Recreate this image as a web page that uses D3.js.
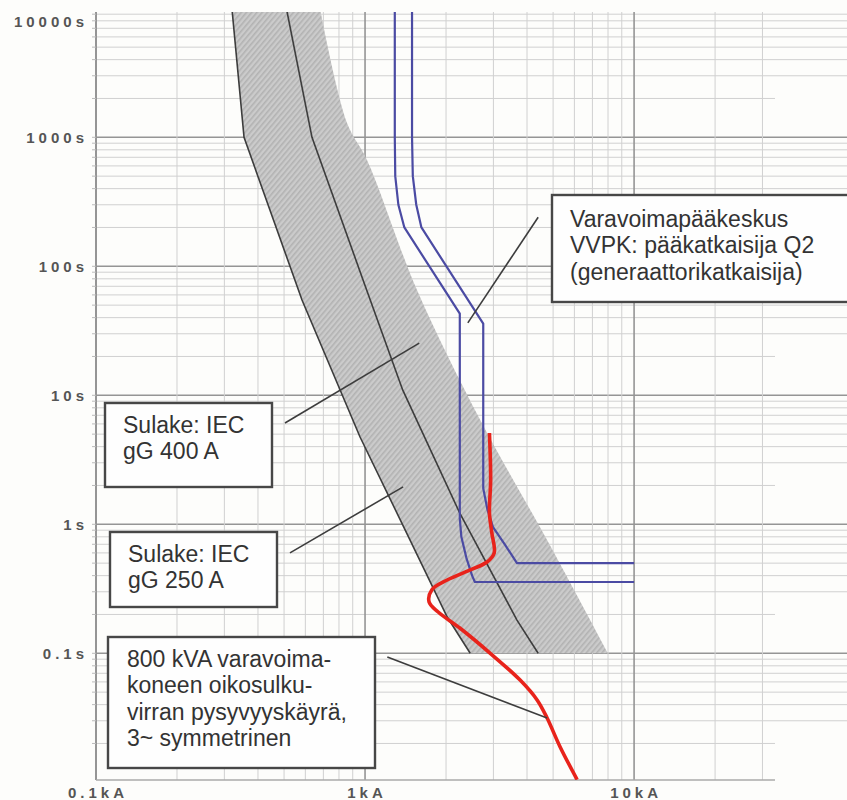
<!DOCTYPE html>
<html>
<head>
<meta charset="utf-8">
<script src="https://cdn.jsdelivr.net/npm/d3@7"></script>
<style>
  body { margin: 0; background: #fdfdfb; }
  svg { display: block; }
</style>
</head>
<body>
<div id="chart"></div>
<script>
// axis ticks
const yTicks = [0.1, 1, 10, 100, 1000, 10000];
const yTickLabels = ["0.1s", "1s", "10s", "100s", "1000s", "10000s"];
const xTicks = [0.1, 1, 10];
const xTickLabels = ["0.1kA", "1kA", "10kA"];

// fuse gG 250 A (left line of band), current kA / time s
const fuse250I = [0.32, 0.355, 0.583, 0.958, 1.47, 2.02, 2.46];
const fuse250T = [10000, 1000, 54.8, 4.75, 0.755, 0.191, 0.1];
// fuse gG 400 A (middle line)
const fuse400I = [0.51, 0.635, 0.983, 1.38, 2.25, 3.67, 4.40];
const fuse400T = [10000, 1000, 78.4, 11, 1.22, 0.181, 0.1];
// right edge of tolerance band
const bandRightI = [0.68, 0.857, 1.017, 1.56, 2.68, 4.75, 8.0];
const bandRightT = [10000, 1290, 667, 65.5, 6.43, 0.755, 0.1];

// breaker Q2, two curves
const q2LowI = [1.29, 1.29, 1.295, 1.33, 1.40, 2.25, 2.25, 2.28, 2.38, 2.50, 2.56, 10];
const q2LowT = [10000, 1000, 500, 300, 200, 43, 1.1, 0.8, 0.55, 0.40, 0.357, 0.357];
const q2HighI = [1.495, 1.495, 1.505, 1.55, 1.62, 2.75, 2.75, 2.85, 2.99, 3.32, 3.67, 10];
const q2HighT = [10000, 1000, 500, 300, 200, 36, 1.9, 1.3, 0.95, 0.69, 0.5, 0.5];

// generator short-circuit decrement curve
const genI = [2.90, 2.93, 2.90, 2.96, 3.02, 2.84, 2.46, 2.02, 1.77, 1.73, 1.87, 2.25, 2.92, 3.77, 4.36, 4.75, 5.31, 6.14];
const genT = [5.1, 2.2, 1.22, 0.857, 0.6, 0.51, 0.443, 0.37, 0.31, 0.25, 0.209, 0.157, 0.1, 0.062, 0.0435, 0.0315, 0.0188, 0.0105];

// annotation boxes (text) and their leader lines in data units
const noteTexts = [
  ["Varavoimapääkeskus", "VVPK: pääkatkaisija Q2", "(generaattorikatkaisija)"],
  ["Sulake: IEC", "gG 400 A"],
  ["Sulake: IEC", "gG 250 A"],
  ["800 kVA varavoima-", "koneen oikosulku-", "virran pysyvyyskäyrä,", "3~ symmetrinen"]
];
const leaderFrom = [[4.4, 240], [0.504, 6.1], [0.526, 0.6], [1.21, 0.0936]];
const leaderTo = [[2.41, 36.4], [1.59, 25.4], [1.385, 1.95], [4.75, 0.0315]];

const W = 847, H = 800;
const plot = {left: 96, right: 775, top: 12, bottom: 780};

const x = d3.scaleLog().domain([0.1, 33.4]).range([plot.left, plot.right]);
const y = d3.scaleLog().domain([0.01, 10000]).range([782.3, 8.3]);

const svg = d3.select("#chart").append("svg")
  .attr("width", W).attr("height", H);

svg.append("rect").attr("width", W).attr("height", H).attr("fill", "#fdfdfb");

const defs = svg.append("defs");
defs.append("clipPath").attr("id", "clip")
  .append("rect").attr("x", plot.left).attr("y", plot.top)
  .attr("width", W - plot.left).attr("height", plot.bottom - plot.top);
const pat = defs.append("pattern").attr("id", "hatch")
  .attr("patternUnits", "userSpaceOnUse").attr("width", 4).attr("height", 4)
  .attr("patternTransform", "rotate(40)");
pat.append("rect").attr("width", 4).attr("height", 4).attr("fill", "#cbcbcb");
pat.append("rect").attr("width", 1.6).attr("height", 4).attr("fill", "#b2b2b2");

// grid
const grid = svg.append("g");
let hVals = [];
for (let d = -2; d <= 3; d++) for (let k = 1; k <= 9; k++) hVals.push(k * Math.pow(10, d));
hVals.push(10000);
hVals = hVals.filter(v => y(v) >= plot.top && y(v) <= plot.bottom);
grid.selectAll("line.h").data(hVals).enter().append("line")
  .attr("x1", plot.left)
  .attr("x2", d => (Math.round(d / Math.pow(10, Math.floor(Math.log10(d) + 1e-9))) === 2 ? plot.right : W))
  .attr("y1", d => y(d)).attr("y2", d => y(d))
  .attr("stroke", d => yTicks.includes(d) ? "#959595" : "#d0d0d0")
  .attr("stroke-width", d => yTicks.includes(d) ? 1.5 : 1);

let vVals = [];
for (let d = -1; d <= 1; d++) for (let k = 1; k <= 9; k++) vVals.push(+(k * Math.pow(10, d)).toFixed(3));
vVals = vVals.filter(v => x(v) <= plot.right + 0.5);
grid.selectAll("line.v").data(vVals).enter().append("line")
  .attr("x1", d => x(d)).attr("x2", d => x(d))
  .attr("y1", plot.top).attr("y2", plot.bottom)
  .attr("stroke", d => xTicks.includes(d) ? "#959595" : "#d0d0d0")
  .attr("stroke-width", d => (d === 1 || d === 10) ? 1.6 : (d === 0.1 ? 2 : 1));

// left ticks
grid.selectAll("line.t").data(hVals).enter().append("line")
  .attr("x1", plot.left - 4).attr("x2", plot.left)
  .attr("y1", d => y(d)).attr("y2", d => y(d))
  .attr("stroke", "#bbb");

// bottom axis line
grid.append("line").attr("x1", plot.left).attr("x2", plot.right)
  .attr("y1", plot.bottom).attr("y2", plot.bottom)
  .attr("stroke", "#aaa").attr("stroke-width", 1.5);

// axis labels
svg.selectAll("text.ylab").data(yTicks).enter().append("text")
  .attr("x", 88).attr("y", d => Math.max(y(d), 22))
  .attr("dy", "0.35em").attr("text-anchor", "end")
  .style("font-family", "Liberation Sans, Arial, sans-serif")
  .style("font-size", "15px").style("font-weight", "bold")
  .style("letter-spacing", "4px").attr("fill", "#555")
  .text((d, i) => yTickLabels[i]);
svg.selectAll("text.xlab").data(xTicks).enter().append("text")
  .attr("x", d => x(d) + 2).attr("y", 798)
  .attr("text-anchor", "middle")
  .style("font-family", "Liberation Sans, Arial, sans-serif")
  .style("font-size", "15px").style("font-weight", "bold")
  .style("letter-spacing", "4px").attr("fill", "#555")
  .text((d, i) => xTickLabels[i]);

const curves = svg.append("g").attr("clip-path", "url(#clip)");
const zip = (I, T) => I.map((v, i) => [v, T[i]]);

// tolerance band
const leftPts = zip(fuse250I, fuse250T);
const rightPts = zip(bandRightI, bandRightT);
const rightLine = d3.line().x(d => x(d[0])).y(d => y(d[1])).curve(d3.curveCatmullRom);
const leftLine = d3.line().x(d => x(d[0])).y(d => y(d[1]));
const bandPath = leftLine(leftPts) + "L" + rightLine(rightPts.slice().reverse()).slice(1) + "Z";
curves.append("path").attr("d", bandPath).attr("fill", "url(#hatch)");

curves.append("path").attr("d", leftLine(leftPts))
  .attr("fill", "none").attr("stroke", "#3d3d3d").attr("stroke-width", 1.6);
curves.append("path").attr("d", leftLine(zip(fuse400I, fuse400T)))
  .attr("fill", "none").attr("stroke", "#3d3d3d").attr("stroke-width", 1.6);

// breaker Q2
const blueLine = d3.line().x(d => x(d[0])).y(d => y(d[1])).curve(d3.curveMonotoneY);
[zip(q2LowI, q2LowT), zip(q2HighI, q2HighT)].forEach(pts => {
  curves.append("path").attr("d", d3.line().x(d => x(d[0])).y(d => y(d[1]))(pts))
    .attr("fill", "none").attr("stroke", "#4b4ba3").attr("stroke-width", 2.2)
    .attr("stroke-linejoin", "round");
});

// generator curve
curves.append("path")
  .attr("d", d3.line().x(d => x(d[0])).y(d => y(d[1])).curve(d3.curveCatmullRom)(zip(genI, genT)))
  .attr("fill", "none").attr("stroke", "#e8231b").attr("stroke-width", 3.6)
  .attr("stroke-linejoin", "round");

// leaders
svg.selectAll("line.lead").data(leaderFrom).enter().append("line")
  .attr("x1", d => x(d[0])).attr("y1", d => y(d[1]))
  .attr("x2", (d, i) => x(leaderTo[i][0])).attr("y2", (d, i) => y(leaderTo[i][1]))
  .attr("stroke", "#3d3d3d").attr("stroke-width", 1.6);

// boxes
const boxes = [
  {x: 552, y: 195, w: 310, h: 107, tx: 570, ty: 227},
  {x: 105, y: 403, w: 167, h: 84, tx: 123, ty: 433},
  {x: 110, y: 532, w: 167, h: 75, tx: 128, ty: 562},
  {x: 108, y: 637, w: 267, h: 131, tx: 127, ty: 667}
];
boxes.forEach((b, i) => {
  svg.append("rect").attr("x", b.x).attr("y", b.y).attr("width", b.w).attr("height", b.h)
    .attr("fill", "#fefefe").attr("stroke", "#474747").attr("stroke-width", 2.4);
  const t = svg.append("text").attr("x", b.tx).attr("y", b.ty)
    .style("font-family", "Liberation Sans, Arial, sans-serif")
    .style("font-size", "23px").attr("fill", "#333");
  noteTexts[i].forEach((line, j) => {
    t.append("tspan").attr("x", b.tx).attr("y", b.ty + j * 26.3).text(line);
  });
});
</script>
</body>
</html>
